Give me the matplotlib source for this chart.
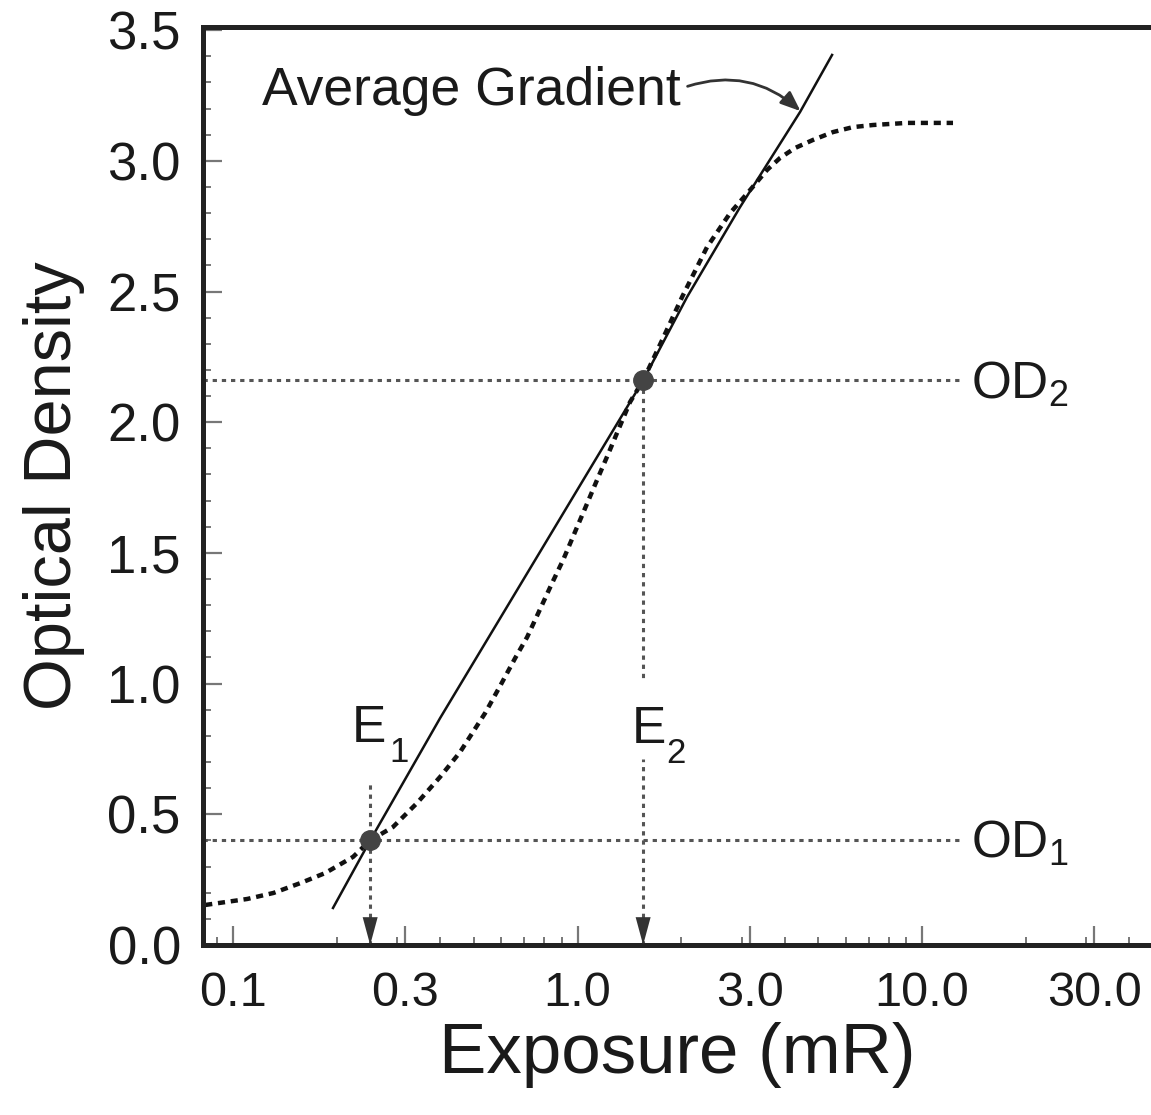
import numpy as np
import matplotlib.pyplot as plt
from matplotlib.ticker import FixedLocator, LogLocator, MultipleLocator, NullFormatter

plt.rcParams['font.family'] = ['Liberation Sans', 'DejaVu Sans']
plt.rcParams['mathtext.default'] = 'regular'

# characteristic (H&D) curve
curve_E = [0.083, 0.110, 0.131, 0.157, 0.185, 0.223, 0.25, 0.291, 0.342, 0.399,
           0.456, 0.539, 0.596, 0.658, 0.714, 0.768, 0.843, 0.908, 0.983, 1.066,
           1.139, 1.226, 1.328, 1.420, 1.55, 1.76, 2.011, 2.376, 2.772, 3.168,
           3.548, 3.871, 4.279, 4.827, 5.516, 6.306, 7.207, 9.05, 12.3]
curve_OD = [0.153, 0.176, 0.199, 0.237, 0.275, 0.337, 0.40, 0.451, 0.543, 0.643,
            0.738, 0.887, 0.991, 1.096, 1.178, 1.268, 1.384, 1.473, 1.580, 1.689,
            1.779, 1.877, 1.986, 2.077, 2.16, 2.314, 2.479, 2.670, 2.800, 2.888,
            2.965, 3.011, 3.049, 3.080, 3.110, 3.129, 3.137, 3.145, 3.145]

# average gradient line
grad_E = [0.195, 0.25, 0.399, 1.55, 2.079, 2.963, 4.426, 5.48]
grad_OD = [0.1415, 0.40, 0.868, 2.16, 2.479, 2.823, 3.187, 3.405]

E1, E2 = 0.25, 1.55
OD1, OD2 = 0.40, 2.16
guide_end = 13.0

xtick_vals = [0.1, 10 ** -0.5, 1.0, 10 ** 0.5, 10.0, 10 ** 1.5]
xtick_labels = ['0.1', '0.3', '1.0', '3.0', '10.0', '30.0']
ytick_vals = [0.0, 0.5, 1.0, 1.5, 2.0, 2.5, 3.0, 3.5]

fig = plt.figure(figsize=(11.51, 11.15), dpi=100)
ax = fig.add_axes([0.1764, 0.1525, 0.8236, 0.8233])
ax.set_xscale('log')
ax.set_xlim(0.0818, 46.2)
ax.set_ylim(0, 3.512)
xmin = ax.get_xlim()[0]

guide = dict(color='#555555', lw=2.2, dashes=(1.4, 1.6))
ax.plot([xmin, guide_end], [OD1, OD1], **guide)
ax.plot([xmin, guide_end], [OD2, OD2], **guide)
ax.plot([E1, E1], [0, 0.63], **guide)
ax.plot([E2, E2], [OD2, 1.01], **guide)
ax.plot([E2, E2], [0, 0.71], **guide)

# arrow heads on the exposure axis
for e in (E1, E2):
    ax.annotate('', xy=(e, 0), xytext=(0, 21), textcoords='offset points',
                arrowprops=dict(arrowstyle='-|>,head_length=1.0,head_width=0.27',
                                mutation_scale=20, color='#333333', lw=0,
                                shrinkA=0, shrinkB=0))

ax.plot(curve_E, curve_OD, color='#111111', lw=3.2, dashes=(1.6, 1.3))
ax.plot(grad_E, grad_OD, color='#111111', lw=1.8)
ax.plot([E1, E2], [OD1, OD2], 'o', ms=14, color='#444444', zorder=5)

# labels
txt = '#1a1a1a'
arrow_OD = 3.19
arrow_E = 10 ** np.interp(arrow_OD, grad_OD, np.log10(grad_E))
ax.annotate('Average Gradient', xy=(arrow_E, arrow_OD), xytext=(0.1214, 3.213),
            fontsize=38.5, ha='left', va='baseline', color=txt,
            arrowprops=dict(arrowstyle='-|>,head_length=0.55,head_width=0.22',
                            connectionstyle='arc3,rad=-0.3', color='#333333',
                            lw=2, mutation_scale=22, relpos=(1, 0.55),
                            shrinkA=3, shrinkB=0))

ax.annotate(r'OD$_2$', xy=(guide_end, OD2), xytext=(7, -13), textcoords='offset points',
            fontsize=37, ha='left', va='baseline', color=txt)
ax.annotate(r'OD$_1$', xy=(guide_end, OD1), xytext=(7, -12.5), textcoords='offset points',
            fontsize=37, ha='left', va='baseline', color=txt)

ax.annotate('E', xy=(E1, OD1), xytext=(-13, 70.6), textcoords='offset points',
            fontsize=37, ha='left', va='baseline', color=txt)
ax.annotate('1', xy=(E1, OD1), xytext=(13.7, 56.2), textcoords='offset points',
            fontsize=25, ha='left', va='baseline', color=txt)
ax.annotate('E', xy=(E2, OD1), xytext=(-7.9, 69.8), textcoords='offset points',
            fontsize=37, ha='left', va='baseline', color=txt)
ax.annotate('2', xy=(E2, OD1), xytext=(16.6, 55.4), textcoords='offset points',
            fontsize=25, ha='left', va='baseline', color=txt)

# axes styling
ax.xaxis.set_major_locator(FixedLocator(xtick_vals))
ax.set_xticklabels(xtick_labels)
ax.xaxis.set_minor_locator(LogLocator(subs=np.arange(2, 10)))
ax.xaxis.set_minor_formatter(NullFormatter())
ax.set_yticks(ytick_vals)
ax.set_yticklabels([f'{v:.1f}' for v in ytick_vals])
ax.yaxis.set_minor_locator(MultipleLocator(0.1))

ax.tick_params(which='both', direction='in', color='#777777', labelcolor=txt,
               right=False, top=False)
ax.tick_params(which='major', length=14, width=1.6)
ax.tick_params(which='minor', length=6, width=1.4)
ax.tick_params(axis='y', labelsize=38, pad=16)
ax.tick_params(axis='x', labelsize=35, pad=19)

for side in ('left', 'bottom', 'top'):
    ax.spines[side].set_linewidth(3.6)
    ax.spines[side].set_color('#222222')
ax.spines['right'].set_visible(False)

ax.set_xlabel('Exposure (mR)', fontsize=51, labelpad=4, color=txt)
ax.set_ylabel('Optical Density', fontsize=48, labelpad=16, color=txt)

fig.savefig('out.png', dpi=100)
